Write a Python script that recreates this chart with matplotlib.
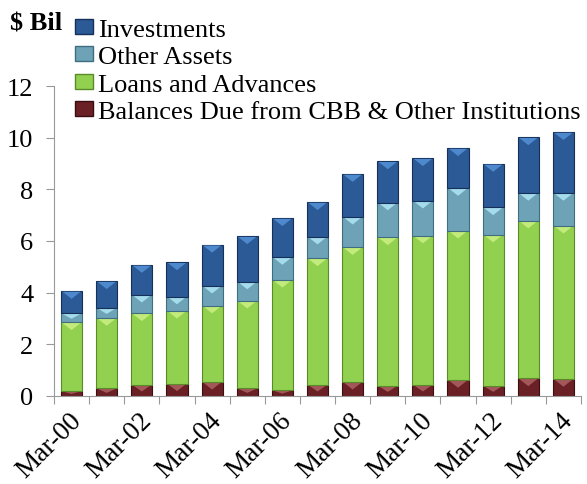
import numpy as np
import matplotlib.pyplot as plt
import matplotlib.transforms as mtransforms
from matplotlib.patches import Patch, Polygon

years = ['Mar-00', 'Mar-01', 'Mar-02', 'Mar-03', 'Mar-04', 'Mar-05', 'Mar-06',
         'Mar-07', 'Mar-08', 'Mar-09', 'Mar-10', 'Mar-11', 'Mar-12', 'Mar-13', 'Mar-14']

# segment values ($ bil)
balances = [0.20, 0.30, 0.44, 0.48, 0.55, 0.30, 0.23, 0.44, 0.55, 0.40, 0.44, 0.62, 0.40, 0.68, 0.66]
loans = [2.65, 2.72, 2.76, 2.82, 2.95, 3.39, 4.27, 4.89, 5.21, 5.74, 5.77, 5.78, 5.85, 6.11, 5.93]
other_assets = [0.35, 0.39, 0.72, 0.55, 0.77, 0.74, 0.88, 0.84, 1.18, 1.35, 1.35, 1.65, 1.05, 1.07, 1.27]
investments = [0.86, 1.03, 1.15, 1.32, 1.58, 1.75, 1.50, 1.33, 1.65, 1.59, 1.64, 1.54, 1.68, 2.15, 2.35]

# name, values, fill, edge, bevel highlight
series = [('Balances Due from CBB & Other Institutions', balances, '#6a2024', '#3a0e10', '#b86a6a'),
          ('Loans and Advances', loans, '#92d050', '#5a8a2a', '#d4f58a'),
          ('Other Assets', other_assets, '#6ea2b6', '#3f6e80', '#b8f0ff'),
          ('Investments', investments, '#2b5a96', '#16305a', '#5a9ae0')]

plt.rcParams['font.family'] = ['Liberation Serif', 'DejaVu Serif']

fig = plt.figure(figsize=(5.87, 4.85), dpi=100)
ax = fig.add_axes([54 / 587, 1 - 397 / 485, 527 / 587, 310 / 485])

ax.set_xlim(-0.5, len(years) - 0.5)
ax.set_ylim(0, 12)

x = np.arange(len(years))
bottom = np.zeros(len(years))
handles = []
bevel = 0.3  # depth of the top highlight, in data units
for name, vals, col, edge, hi in series:
    vals = np.array(vals)
    bars = ax.bar(x, vals, 0.6, bottom=bottom, color=col, edgecolor=edge, linewidth=0.8)
    for b in bars:
        x0, w = b.get_x(), b.get_width()
        top = b.get_y() + b.get_height()
        d = min(bevel, b.get_height() * 0.6)
        ax.add_patch(Polygon([(x0 + 0.04, top - 0.02), (x0 + w - 0.04, top - 0.02),
                              (x0 + w / 2, top - d)], closed=True,
                             facecolor=hi, edgecolor='none', alpha=0.75))
    bottom += vals
    handles.append(Patch(facecolor=col, edgecolor=edge, label=name))

ax.set_yticks(range(0, 13, 2))
ax.set_xticks(np.arange(-0.5, len(years), 1.0))
ax.set_xticklabels([])
ax.tick_params(axis='x', length=6, color='#999999', direction='out')
ax.tick_params(axis='y', length=6, color='#999999', labelsize=19, pad=9)

# rotated category labels, every other year
shift = mtransforms.ScaledTranslation(-3 / 100, -11 / 100, fig.dpi_scale_trans)
for xi in x[::2]:
    ax.text(xi, 0, years[xi], transform=ax.get_xaxis_transform() + shift,
            rotation=45, ha='right', va='top', rotation_mode='anchor', fontsize=19.5)

for s in ['top', 'right']:
    ax.spines[s].set_visible(False)
for s in ['left', 'bottom']:
    ax.spines[s].set_color('#999999')

fig.text(10 / 587, 1 - 12 / 485, '$ Bil', fontsize=19, fontweight='bold', va='top')
fig.legend(handles=handles[::-1], loc='upper left', bbox_to_anchor=(75 / 587, 1 - 20 / 485),
           frameon=False, fontsize=19, handlelength=0.68, handleheight=0.5,
           handletextpad=0.2, labelspacing=0.2, borderpad=0, borderaxespad=0)

fig.savefig('out.png', dpi=100)
